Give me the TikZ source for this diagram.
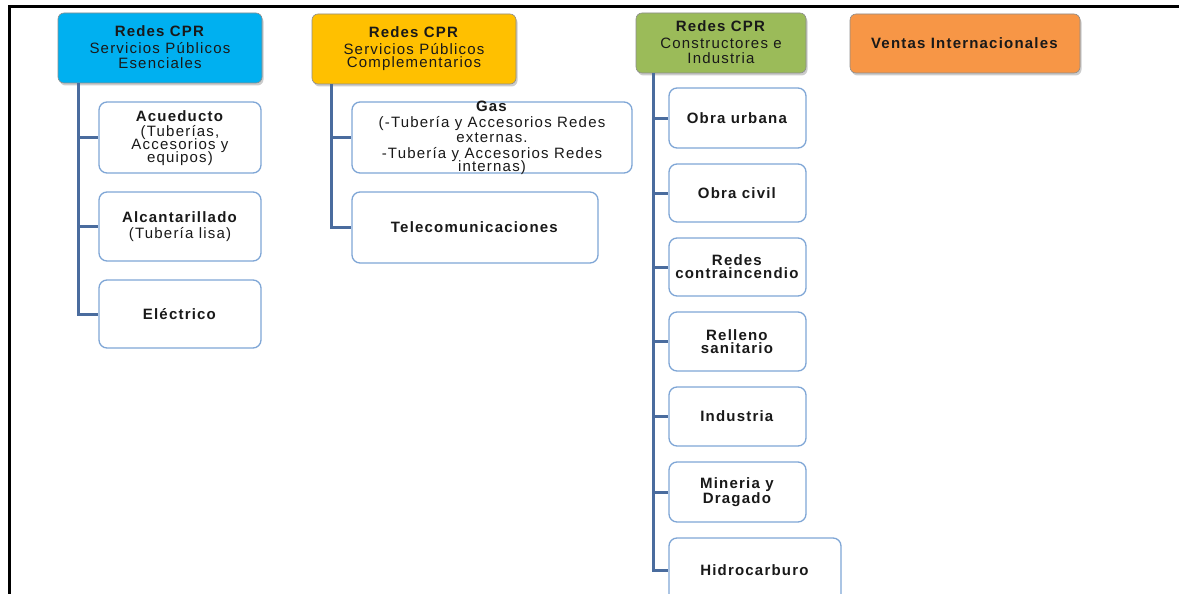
\documentclass[tikz,border=0pt]{standalone}
\usepackage{fontspec}
\setmainfont{Liberation Sans}[LetterSpace=8]
\usetikzlibrary{positioning}
\definecolor{hcyan}{HTML}{00B0F0}
\definecolor{hgold}{HTML}{FFC000}
\definecolor{hgreen}{HTML}{9BBB59}
\definecolor{horange}{HTML}{F79646}
\definecolor{kidline}{HTML}{7FA6D6}
\definecolor{spine}{HTML}{4A6C9E}
\begin{document}
\begin{tikzpicture}[x=1pt,y=-1pt,
  every node/.style={font=\fontsize{15}{13}\selectfont, align=center, inner sep=0pt, text=black!90},
  head/.style={draw=black!45, line width=0.6pt, rounded corners=6pt,
    minimum width=#1, text depth=0pt},
  kid/.style={draw=kidline, line width=1.3pt, fill=white, rounded corners=8pt},
  conn/.style={draw=spine, line width=3pt, line join=miter}
]
\useasboundingbox (0,0) rectangle (1179,594);
% frame
\draw[line width=3pt] (9,594) -- (9,7) -- (1179,7);

% shadows under the headers
\foreach \a/\b/\c/\d in {58/13/262/83, 312/14/516/84, 636/13/806/73, 850/14/1080/73}
  \fill[black!20, rounded corners=6pt] (\a+1.5,\b+2.5) rectangle (\c+1.5,\d+2.5);

% header boxes
\node[head=204pt, fill=hcyan, minimum height=70pt] (h1) at (160,48) {};
\node[head=204pt, fill=hgold, minimum height=70pt] (h2) at (414,49) {};
\node[head=170pt, fill=hgreen, minimum height=60pt] (h3) at (721,43) {};
\node[head=230pt, fill=horange, minimum height=59pt] (h4) at (965,43.5) {\textbf{Ventas Internacionales}};

\node at (160,31.5) {\textbf{Redes CPR}};
\node at (160,48) {Servicios Públicos};
\node at (160,63) {Esenciales};
\node at (414,32.5) {\textbf{Redes CPR}};
\node at (414,49) {Servicios Públicos};
\node at (414,64) {Complementarios};
\node at (721,26.5) {\textbf{Redes CPR}};
\node at (721,43) {Constructores e};
\node at (721,58) {Industria};

% column 1
\node[kid, minimum width=162pt, minimum height=71pt] (acu) at (180,137.5) {};
\node at (180,116) {\textbf{Acueducto}};
\node at (180,133) {(Tuberías,};
\node at (180,146) {Accesorios y};
\node at (180,159) {equipos)};
\node[kid, minimum width=162pt, minimum height=69pt] (alc) at (180,226.5) {};
\node at (180,217) {\textbf{Alcantarillado}};
\node at (180,235) {(Tubería lisa)};
\node[kid, minimum width=162pt, minimum height=68pt] (ele) at (180,314) {\textbf{Eléctrico}};

% column 2
\node[kid, minimum width=280pt, minimum height=71pt] (gas) at (492,137.5) {};
\node at (492,106) {\textbf{Gas}};
\node at (492,124) {(-Tubería y Accesorios Redes};
\node at (492,137.5) {externas.};
\node at (492,155) {-Tubería y Accesorios Redes};
\node at (492,168) {internas)};
\node[kid, minimum width=246pt, minimum height=71pt] (tel) at (475,227.5) {\textbf{Telecomunicaciones}};

% column 3
\node[kid, minimum width=137pt, minimum height=60pt] (urb) at (737.5,118) {\textbf{Obra urbana}};
\node[kid, minimum width=137pt, minimum height=58pt] (civ) at (737.5,193) {\textbf{Obra civil}};
\node[kid, minimum width=137pt, minimum height=58pt] (inc) at (737.5,267) {\textbf{Redes}\\[0pt]\textbf{contraincendio}};
\node[kid, minimum width=137pt, minimum height=59pt] (rel) at (737.5,341.5) {\textbf{Relleno}\\[0pt]\textbf{sanitario}};
\node[kid, minimum width=137pt, minimum height=59pt] (ind) at (737.5,416.5) {\textbf{Industria}};
\node[kid, minimum width=137pt, minimum height=60pt] (min) at (737.5,492) {\textbf{Mineria y}\\[0pt]\textbf{Dragado}};
\node[kid, minimum width=172pt, minimum height=64pt] (hid) at (755,570) {\textbf{Hidrocarburo}};

% spines
\foreach \k in {acu,alc,ele}
  \draw[conn] ([xshift=21pt]h1.south west) |- (\k.west);
\foreach \k in {gas,tel}
  \draw[conn] ([xshift=20pt]h2.south west) |- (\k.west);
\foreach \k in {urb,civ,inc,rel,ind,min,hid}
  \draw[conn] ([xshift=18pt]h3.south west) |- (\k.west);
\end{tikzpicture}
\end{document}
